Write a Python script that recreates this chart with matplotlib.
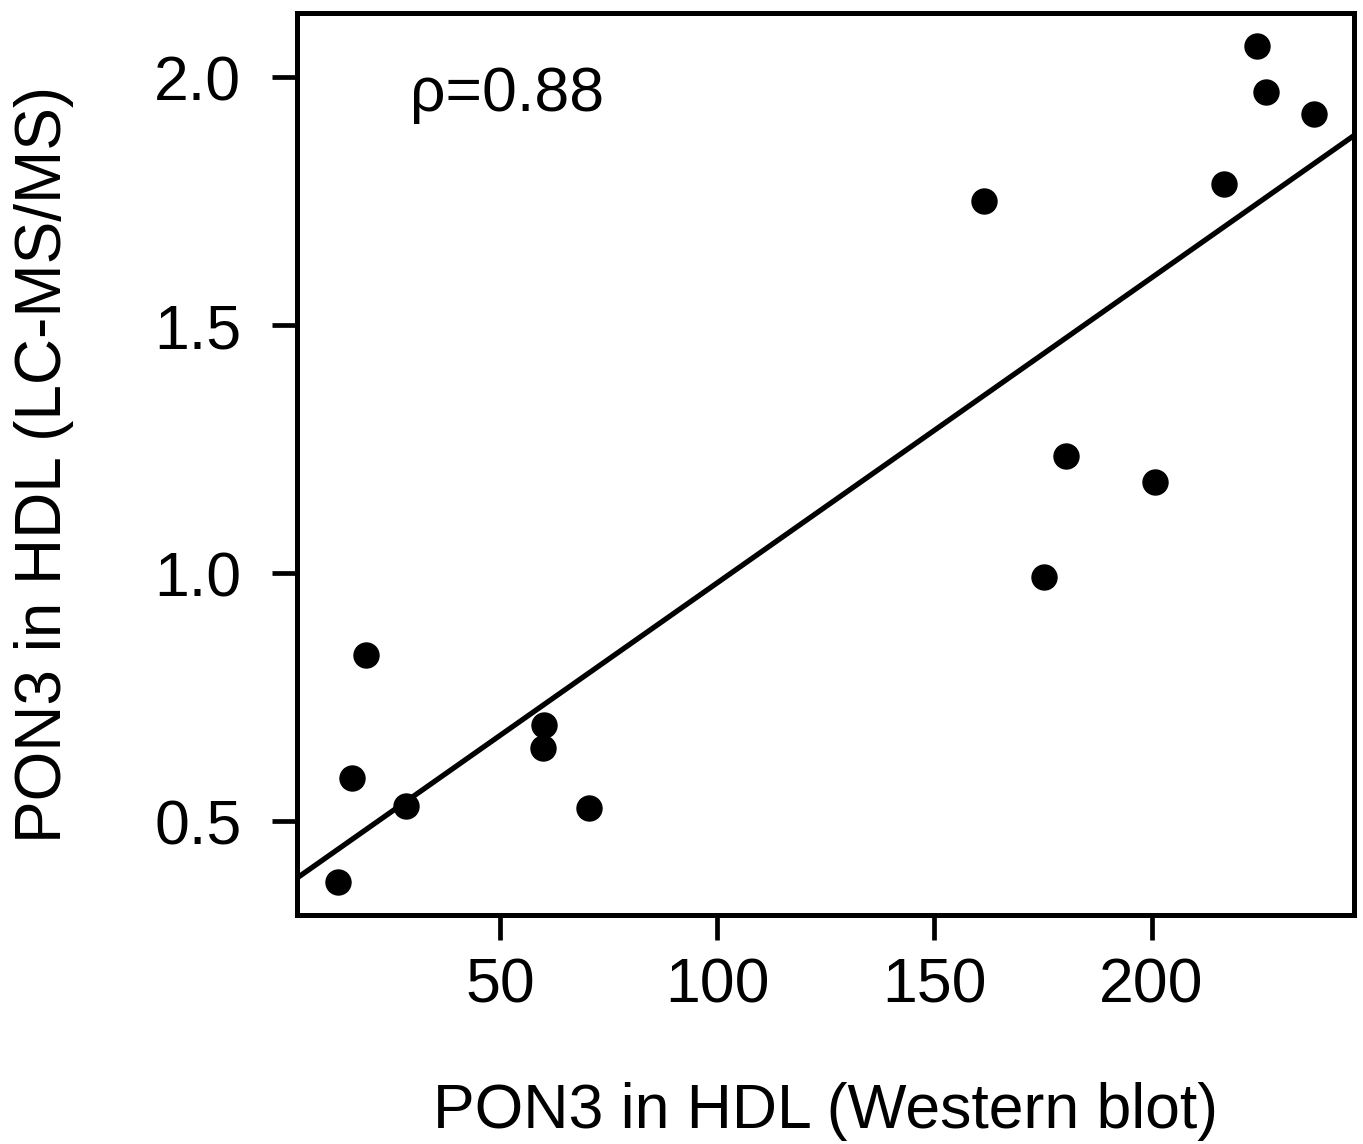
import numpy as np
import matplotlib.pyplot as plt

plt.rcParams['font.family'] = ['Liberation Sans', 'DejaVu Sans']

# PON3 in HDL, western blot vs LC-MS/MS
western = [12.8, 16.0, 19.2, 28.4, 60.1, 59.9, 70.5, 161.5, 175.3, 180.3,
           200.8, 216.7, 224.3, 226.3, 237.4]
lcms = [0.377, 0.587, 0.836, 0.530, 0.693, 0.647, 0.526, 1.750, 0.992, 1.236,
        1.183, 1.785, 2.062, 1.970, 1.926]
xticks = [50, 100, 150, 200]
yticks = [0.5, 1.0, 1.5, 2.0]
rho_text = "\u03c1=0.88"

x = np.array(western)
y = np.array(lcms)

fig = plt.figure(figsize=(13.63, 11.44), dpi=100)
ax = fig.add_axes([297 / 1363, 1 - 915 / 1144, (1354 - 297) / 1363, (915 - 13) / 1144])

xlim = (3.3, 246.6)
ylim = (0.311, 2.129)

# regression line
slope, intercept = np.polyfit(x, y, 1)
xl = np.array(xlim)
ax.plot(xl, slope * xl + intercept, color='black', lw=3.8, zorder=2)

ax.plot(x, y, 'o', color='black', markersize=18, zorder=3)

ax.set_xlim(xlim)
ax.set_ylim(ylim)
ax.set_xticks(xticks)
ax.set_xticklabels([str(t) for t in xticks])
ax.set_yticks(yticks)
ax.set_yticklabels([f"{t:.1f}" for t in yticks])

for s in ax.spines.values():
    s.set_linewidth(3.6)
ax.tick_params(axis='both', length=18, width=3.4, labelsize=45)
ax.tick_params(axis='x', pad=12)
ax.tick_params(axis='y', pad=22)

ax.set_xlabel("PON3 in HDL (Western blot)", fontsize=45, labelpad=48)
ax.set_ylabel("PON3 in HDL (LC-MS/MS)", fontsize=46, labelpad=58)

ax.text(0.107, 0.91, rho_text, transform=ax.transAxes, fontsize=45,
        ha='left', va='center')

fig.savefig("out.png", dpi=100)
